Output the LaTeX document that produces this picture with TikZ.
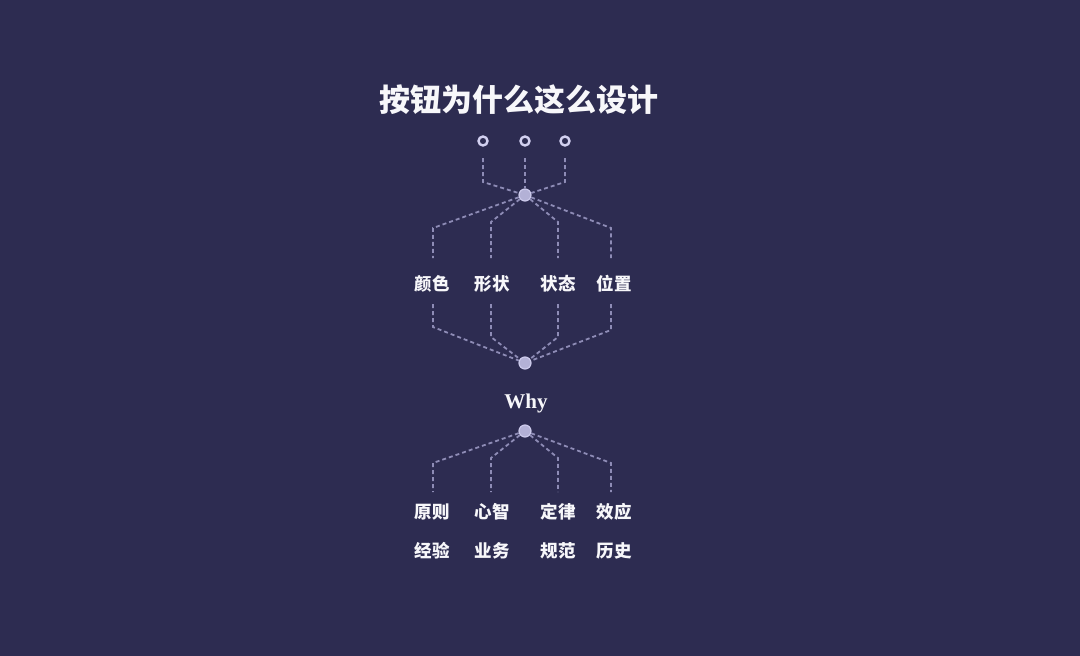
\documentclass[tikz,border=0pt]{standalone}
\usepackage{fontspec}
\setmainfont{Liberation Serif}
\newfontfamily\cjk{Noto Sans CJK SC}
\definecolor{bg}{HTML}{2D2C51}
\definecolor{dashc}{HTML}{8E8CB6}
\definecolor{ringc}{HTML}{D2D0F0}
\definecolor{hubc}{HTML}{B3B1D6}
\definecolor{txt}{HTML}{F7F7FA}
\tikzset{
  conn/.style={draw=dashc, line width=1.8pt, dash pattern=on 4pt off 3pt},
  ring/.style={circle, draw=ringc, line width=2.4pt, fill=bg, minimum size=9pt, inner sep=0pt},
  hub/.style={circle, draw=ringc!80!hubc, line width=1.2pt, fill=hubc, minimum size=12pt, inner sep=0pt},
  lbl/.style={text=txt, font=\cjk\bfseries\fontsize{17.5}{20}\selectfont, inner sep=0pt},
  ttl/.style={text=txt, font=\cjk\bfseries\fontsize{31}{36}\selectfont, inner sep=0pt},
  why/.style={text=txt, font=\bfseries\fontsize{21}{24}\selectfont, inner sep=0pt}
}
\begin{document}
\begin{tikzpicture}[x=1pt,y=-1pt]
\path[fill=bg] (0,0) rectangle (1080,656);
\node[ttl] (title) at (519,100) {按钮为什么这么设计};
% top rings
\node[ring] (t1) at (483,141) {};
\node[ring] (t2) at (525,141) {};
\node[ring] (t3) at (565,141) {};
% hubs
\node[hub] (h1) at (525,195) {};
\node[hub] (h2) at (525,363) {};
\node[hub] (h3) at (525,431) {};
% labels
\node[lbl] (l1) at (432,284) {颜色};
\node[lbl] (l2) at (492,284) {形状};
\node[lbl] (l3) at (558,284) {状态};
\node[lbl] (l4) at (614,284) {位置};
\node[why] (why) at (526,403) {Why};
\node[lbl] (r1) at (432,512) {原则};
\node[lbl] (r2) at (492,512) {心智};
\node[lbl] (r3) at (558,512) {定律};
\node[lbl] (r4) at (614,512) {效应};
\node[lbl] (s1) at (432,551) {经验};
\node[lbl] (s2) at (492,551) {业务};
\node[lbl] (s3) at (558,551) {规范};
\node[lbl] (s4) at (614,551) {历史};
% top connectors
\coordinate (t1s) at (483,158);
\coordinate (t2s) at (525,158);
\coordinate (t3s) at (565,158);
\draw[conn] (t1s) -- (483,182) -- (h1);
\draw[conn] (t2s) -- (h1);
\draw[conn] (t3s) -- (565,182) -- (h1);
% hub1 to labels
\coordinate (a1) at (433,258);
\coordinate (a2) at (491,258);
\coordinate (a3) at (558,258);
\coordinate (a4) at (611,258);
\draw[conn] (h1) -- (433,228) -- (a1);
\draw[conn] (h1) -- (491,222) -- (a2);
\draw[conn] (h1) -- (558,222) -- (a3);
\draw[conn] (h1) -- (611,228) -- (a4);
% labels to hub2
\coordinate (b1) at (433,304);
\coordinate (b2) at (491,304);
\coordinate (b3) at (558,304);
\coordinate (b4) at (611,304);
\draw[conn] (b1) -- (433,327) -- (h2);
\draw[conn] (b2) -- (491,337) -- (h2);
\draw[conn] (b3) -- (558,337) -- (h2);
\draw[conn] (b4) -- (611,330) -- (h2);
% hub3 to labels
\coordinate (c1) at (433,492);
\coordinate (c2) at (491,492);
\coordinate (c3) at (558,492);
\coordinate (c4) at (611,492);
\draw[conn] (h3) -- (433,463) -- (c1);
\draw[conn] (h3) -- (491,458) -- (c2);
\draw[conn] (h3) -- (558,458) -- (c3);
\draw[conn] (h3) -- (611,463) -- (c4);
\end{tikzpicture}
\end{document}
